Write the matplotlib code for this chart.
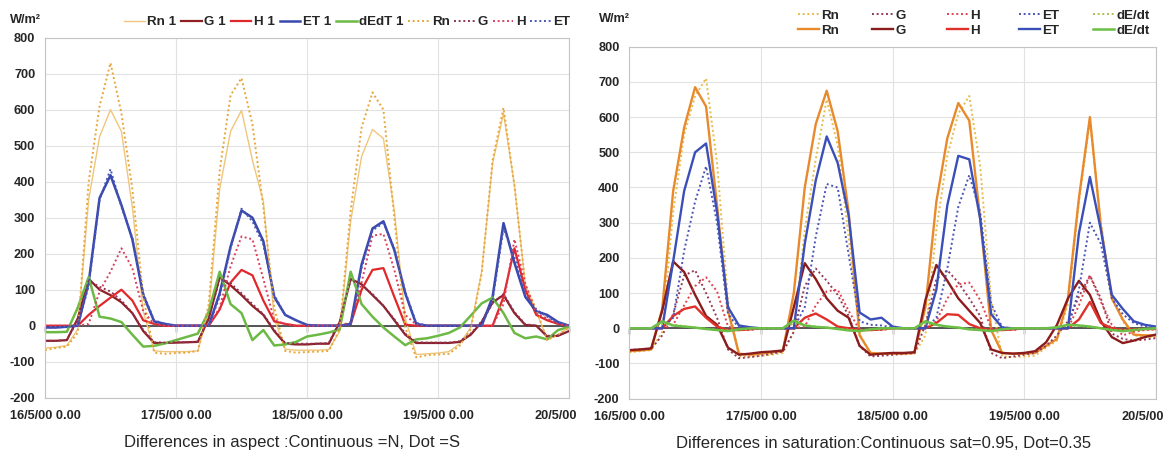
import numpy as np
import matplotlib
matplotlib.use('Agg')
import matplotlib.pyplot as plt
from matplotlib.transforms import ScaledTranslation

plt.rcParams['font.family'] = ['Liberation Sans', 'DejaVu Sans']
plt.rcParams['axes.unicode_minus'] = False

# time axis: 2-hourly values from 16/5/00 0.00 to 20/5/00 0.00
hours = np.arange(0, 97, 2)
day_ticks = [0, 24, 48, 72, 96]
day_labels = ['16/5/00 0.00', '17/5/00 0.00', '18/5/00 0.00', '19/5/00 0.00', '20/5/00']
y_ticks = list(range(-200, 801, 100))

# ---- left chart: aspect, continuous = N, dot = S
rn1_n = [-62, -60, -55, -10, 350, 525, 600, 540, 330, 40, -70, -72,
         -72, -72, -70, 40, 380, 540, 598, 460, 345, 20, -65, -68,
         -68, -68, -66, -15, 290, 470, 545, 520, 320, 20, -80, -78,
         -76, -72, -50, -5, 150, 450, 590, 390, 115, 40, -38, -25, -5]
g1_n = [-42, -42, -40, 20, 130, 100, 85, 65, 35, -15, -48, -48,
        -47, -46, -45, 20, 135, 112, 85, 55, 30, -15, -50, -52,
        -52, -50, -50, 10, 130, 115, 85, 55, 15, -25, -48, -48,
        -48, -48, -45, -25, 10, 65, 85, 35, 2, 0, -30, -28, -15]
h1_n = [0, 0, 0, 0, 30, 55, 78, 100, 70, 15, 5, 0,
        0, 0, 0, 0, 45, 120, 155, 140, 70, 12, 5, 0,
        0, 0, 0, 0, 5, 100, 155, 160, 80, 3, 0, 0,
        0, 0, 0, 0, 0, 0, 80, 215, 100, 30, 15, 5, 0]
et1_n = [-5, -5, -3, 0, 120, 355, 418, 335, 240, 85, 12, 5,
         0, 0, 0, 0, 90, 220, 320, 300, 235, 80, 30, 15,
         2, 0, 0, 0, 5, 170, 270, 290, 210, 90, 5, 0,
         0, 0, 0, 0, 0, 80, 285, 175, 80, 40, 30, 10, 0]
dedt1_n = [-18, -18, -17, 50, 135, 25, 20, 10, -25, -58, -56, -49,
           -40, -31, -22, 40, 150, 60, 35, -40, -12, -55, -52, -45,
           -30, -25, -19, -10, 150, 60, 25, -5, -30, -54, -38, -35,
           -28, -20, -5, 28, 62, 78, 35, -20, -35, -30, -38, -12, -3]
rn_s = [-68, -62, -58, -20, 400, 610, 730, 590, 380, 80, -75, -78,
        -76, -75, -70, 60, 430, 640, 688, 560, 330, 50, -70, -75,
        -73, -72, -70, -10, 320, 550, 648, 600, 300, -5, -88, -82,
        -80, -78, -55, -10, 145, 460, 605, 390, 115, 45, -40, -25, -5]
g_s = [-42, -42, -40, 15, 125, 108, 95, 70, 35, -12, -46, -47,
       -46, -46, -44, 20, 130, 118, 90, 60, 32, -12, -48, -50,
       -50, -50, -48, 12, 128, 112, 88, 55, 18, -22, -46, -47,
       -47, -47, -43, -22, 12, 62, 88, 38, 4, 0, -28, -27, -15]
h_s = [0, 0, 0, 0, 5, 95, 150, 215, 160, 40, 5, 0,
       0, 0, 0, 0, 50, 165, 248, 240, 130, 15, 5, 0,
       0, 0, 0, 0, 10, 120, 250, 255, 155, 30, 3, 0,
       0, 0, 0, 0, 0, 0, 60, 240, 115, 35, 20, 5, 0]
et_s = [-5, -5, -3, 0, 110, 350, 435, 330, 245, 90, 15, 5,
        0, 0, 0, 0, 80, 215, 325, 290, 225, 85, 30, 15,
        2, 0, 0, 0, 3, 160, 265, 285, 215, 95, 8, 0,
        0, 0, 0, 0, 0, 70, 270, 190, 85, 45, 25, 8, 0]

# ---- right chart: saturation, continuous sat=0.95, dot = 0.35
rn_95 = [-65, -63, -60, 55, 390, 570, 685, 630, 350, 50, -72, -75,
         -72, -68, -65, 100, 400, 580, 675, 560, 330, -20, -70, -72,
         -72, -72, -70, 60, 360, 540, 640, 590, 310, -5, -70, -72,
         -72, -70, -50, -30, 85, 370, 600, 290, 85, 25, -18, -20, -20]
g_95 = [-62, -60, -57, 50, 190, 160, 95, 35, 10, -55, -75, -72,
        -68, -66, -63, 60, 185, 140, 85, 50, 30, -50, -75, -72,
        -70, -70, -68, 80, 180, 135, 85, 50, 15, -60, -70, -72,
        -70, -65, -40, 10, 85, 135, 95, 20, -25, -42, -35, -25, -18]
h_95 = [0, 0, 0, 0, 35, 55, 62, 30, 5, -5, -5, -3,
        0, 0, 0, 0, 30, 42, 25, 5, 0, -5, -5, -3,
        0, 0, 0, 0, 15, 40, 38, 12, 0, -5, -5, -3,
        0, 0, 0, 0, 0, 25, 75, 15, 0, -5, -3, -2, -2]
et_95 = [0, 0, 0, 0, 190, 390, 500, 525, 330, 60, 8, 3,
         0, 0, 0, 0, 240, 420, 545, 470, 320, 45, 25, 30,
         5, 0, 0, 0, 110, 350, 490, 480, 310, 40, 2, 0,
         0, 0, 0, 0, 0, 270, 430, 280, 95, 55, 20, 10, 5]
dedt_95 = [0, 0, 0, 20, 8, 5, 2, -2, -5, -8, -3, 0,
           0, 0, 0, 22, 8, 4, 2, -2, -6, -8, -3, 0,
           0, 0, 0, 20, 10, 5, 2, -3, -5, -8, -3, 0,
           0, 0, 0, 3, 10, 8, 5, 0, -5, -8, -5, -2, 0]
rn_35 = [-68, -65, -62, -10, 330, 550, 660, 710, 470, 80, -80, -80,
         -78, -75, -70, -10, 280, 480, 650, 520, 260, -15, -75, -75,
         -75, -74, -72, -20, 280, 490, 610, 660, 460, 80, -80, -82,
         -80, -78, -55, -35, 70, 360, 590, 300, 90, 20, -20, -25, -25]
g_35 = [-62, -60, -58, -20, 40, 150, 165, 100, 30, -60, -85, -82,
        -78, -72, -66, -10, 120, 170, 135, 95, 35, -50, -80, -78,
        -75, -72, -70, 10, 140, 165, 130, 85, 35, -70, -85, -80,
        -75, -70, -50, -20, 20, 90, 150, 85, -15, -30, -35, -32, -28]
h_35 = [0, 0, 0, 0, 10, 65, 120, 145, 105, 5, -5, -5,
        0, 0, 0, 0, 5, 65, 105, 110, 50, -5, -5, -5,
        0, 0, 0, 0, 20, 85, 125, 130, 80, 0, -5, -5,
        0, 0, 0, 0, 0, 65, 150, 75, 10, -20, -10, -5, -3]
et_35 = [0, 0, 0, 0, 30, 220, 360, 460, 300, 40, 2, 0,
         0, 0, 0, 0, 60, 260, 410, 400, 210, 20, 10, 8,
         2, 0, 0, 0, 30, 170, 345, 435, 330, 70, 3, 0,
         0, 0, 0, 0, 0, 110, 300, 240, 85, 40, 15, 5, 0]
dedt_35 = [0, 0, 0, 12, 10, 6, 2, -1, -4, -6, -3, -1,
           0, 0, 0, 14, 9, 5, 2, -1, -4, -6, -3, -1,
           0, 0, 0, 12, 9, 5, 2, -2, -4, -6, -3, -1,
           0, 0, 0, 2, 8, 7, 4, 0, -4, -6, -4, -2, 0]

DOT = (0, (1, 1.4))
TXT = '#262626'
LEG_FONT = {'weight': 'bold', 'size': 9.6}


def style_axes(ax):
    ax.set_xlim(0, 96)
    ax.set_ylim(-200, 800)
    ax.set_xticks(day_ticks)
    ax.set_xticklabels(day_labels)
    ax.set_yticks(y_ticks)
    ax.grid(True, color='#e2e2e2', lw=0.8)
    ax.set_axisbelow(True)
    for s in ax.spines.values():
        s.set_color('#c4c4c4')
    ax.tick_params(length=0, labelsize=9.2, labelcolor=TXT)
    ax.tick_params(axis='x', pad=9)
    ax.tick_params(axis='y', pad=7)
    for lbl in ax.get_xticklabels() + ax.get_yticklabels():
        lbl.set_fontweight('bold')
    # the last date label is cut in the source picture, only "20/5/00" shows
    last = ax.get_xticklabels()[-1]
    last.set_horizontalalignment('right')
    last.set_transform(last.get_transform() + ScaledTranslation(8 / 100, 0, fig.dpi_scale_trans))
    ax.axhline(0, color='#3a3a3a', lw=1.2, zorder=1.8)
    # small tick marks on the zero line
    sec = ax.secondary_xaxis(0.2)
    sec.set_xticks(day_ticks)
    sec.tick_params(direction='out', length=4, width=1, color='#3a3a3a', labelbottom=False)
    sec.spines['bottom'].set_visible(False)


fig = plt.figure(figsize=(11.65, 4.54), dpi=100)
axL = fig.add_axes([45 / 1165, 1 - 397.7 / 454, 524 / 1165, 360 / 454])
axR = fig.add_axes([629.3 / 1165, 1 - 398.7 / 454, 526.4 / 1165, 352 / 454])
style_axes(axL)
style_axes(axR)

# left chart
axL.plot(hours, rn1_n, color='#efc67c', lw=1.0, label='Rn 1')
axL.plot(hours, g1_n, color='#8e1f23', lw=1.6, label='G 1')
axL.plot(hours, h1_n, color='#e0282c', lw=1.6, label='H 1')
axL.plot(hours, et1_n, color='#3848ad', lw=1.8, label='ET 1')
axL.plot(hours, dedt1_n, color='#6cba45', lw=1.8, label='dEdT 1')
axL.plot(hours, rn_s, color='#e7a63c', lw=1.4, ls=DOT, label='Rn')
axL.plot(hours, g_s, color='#8c3458', lw=1.4, ls=DOT, label='G')
axL.plot(hours, h_s, color='#d8405e', lw=1.4, ls=DOT, label='H')
axL.plot(hours, et_s, color='#4a55b8', lw=1.4, ls=DOT, label='ET')

axL.legend(loc='center left', bbox_to_anchor=(124 / 1165, 1 - 22 / 454),
           bbox_transform=fig.transFigure, ncol=9, frameon=False,
           borderpad=0, borderaxespad=0, handlelength=1.55, handletextpad=0.2,
           columnspacing=0.35, prop=LEG_FONT, labelcolor=TXT)

# right chart
dot_lines = []
sol_lines = []
dot_lines += axR.plot(hours, rn_35, color='#e6bb4a', lw=1.4, ls=DOT, label='Rn')
sol_lines += axR.plot(hours, rn_95, color='#e8892c', lw=1.7, label='Rn')
dot_lines += axR.plot(hours, g_35, color='#943a55', lw=1.4, ls=DOT, label='G')
sol_lines += axR.plot(hours, g_95, color='#8b1c1c', lw=1.7, label='G')
dot_lines += axR.plot(hours, h_35, color='#e04250', lw=1.4, ls=DOT, label='H')
sol_lines += axR.plot(hours, h_95, color='#e0302a', lw=1.7, label='H')
dot_lines += axR.plot(hours, et_35, color='#4a52b5', lw=1.4, ls=DOT, label='ET')
sol_lines += axR.plot(hours, et_95, color='#3a4fb8', lw=1.7, label='ET')
dot_lines += axR.plot(hours, dedt_35, color='#a9c24a', lw=1.4, ls=DOT, label='dE/dt')
sol_lines += axR.plot(hours, dedt_95, color='#6cbf45', lw=1.8, label='dE/dt')

# one small legend per column, evenly spaced like in the source
col_x = [798, 872, 947, 1019, 1093]
for i, x in enumerate(col_x):
    leg = axR.legend(handles=[dot_lines[i], sol_lines[i]], loc='center left',
                     bbox_to_anchor=(x / 1165, 1 - 23 / 454), bbox_transform=fig.transFigure,
                     frameon=False, borderpad=0, borderaxespad=0, handlelength=1.55,
                     handletextpad=0.2, labelspacing=0.2, prop=LEG_FONT, labelcolor=TXT)
    if i < len(col_x) - 1:
        axR.add_artist(leg)

fig.text(10 / 1165, 1 - 20 / 454, 'W/m²', fontsize=9.2, fontweight='bold', color=TXT, va='center')
fig.text(599 / 1165, 1 - 19 / 454, 'W/m²', fontsize=9.2, fontweight='bold', color=TXT, va='center')

fig.text(292 / 1165, 1 - 443 / 454, 'Differences in aspect :Continuous =N, Dot =S',
         fontsize=12, color=TXT, ha='center', va='center')
fig.text(884 / 1165, 1 - 443 / 454, 'Differences in saturation:Continuous sat=0.95, Dot=0.35',
         fontsize=12, color=TXT, ha='center', va='center')

fig.savefig('out.png', dpi=100, facecolor='white')
